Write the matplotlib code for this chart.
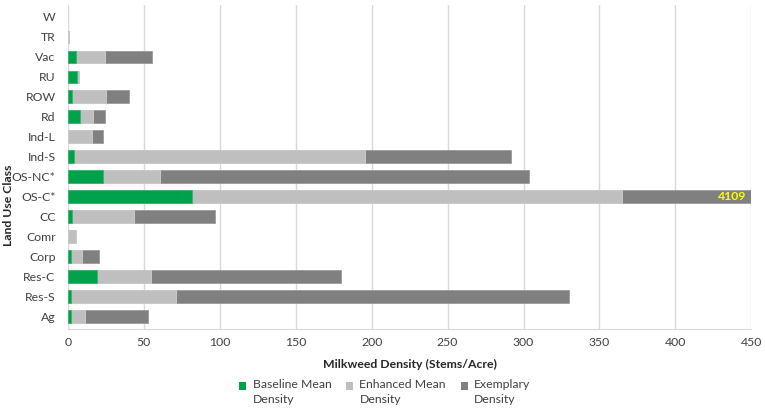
import numpy as np
import matplotlib
matplotlib.use("Agg")
from matplotlib import pyplot as plt

plt.rcParams['font.family'] = ['Lato', 'DejaVu Sans']

# top to bottom as in the chart
clases = ['W', 'TR', 'Vac', 'RU', 'ROW', 'Rd', 'Ind-L', 'Ind-S', 'OS-NC*', 'OS-C*',
          'CC', 'Comr', 'Corp', 'Res-C', 'Res-S', 'Ag']
# cumulative end of each stacked segment (stems/acre)
baseline = [0, 0, 5.1, 5.7, 2.6, 7.7, 0, 3.7, 22.7, 81.5, 2.6, 0, 2.2, 19.2, 1.8, 2.2]
enhanced = [0, 0.4, 24.2, 7.5, 25.3, 16.5, 15.6, 195.6, 60.4, 365, 43.6, 5.1, 9, 54.4, 70.9, 11]
exemplary = [0, 0.4, 55.3, 7.5, 40, 24.4, 23.1, 292, 303.5, 4109, 96.7, 5.1, 20.3, 180, 330, 52.4]

verde = '#00A14B'
gris_claro = '#BFBFBF'
gris_osc = '#808080'
fs = 8.8

fig, ax = plt.subplots(figsize=(7.65, 4.11), dpi=100)
fig.subplots_adjust(left=0.089, right=0.982, top=0.988, bottom=0.2)

y = np.arange(len(clases))[::-1]
alto = 0.64

def bordes(vals):
    return [0.6 if v > 0 else 0 for v in vals]

ax.barh(y, exemplary, height=alto, color=gris_osc, edgecolor='#9a9a9a',
        linewidth=bordes(exemplary), label='Exemplary\nDensity', zorder=2)
ax.barh(y, enhanced, height=alto, color=gris_claro, edgecolor='#cfcfcf',
        linewidth=bordes(enhanced), label='Enhanced Mean\nDensity', zorder=3)
ax.barh(y, baseline, height=alto, color=verde, edgecolor='#3cb46e',
        linewidth=bordes(baseline), label='Baseline Mean\nDensity', zorder=4)

ax.set_xlim(0, 450)
ax.set_ylim(-0.6, len(clases) - 0.4)
ax.set_xticks(range(0, 451, 50))
ax.set_yticks(y)
ax.set_yticklabels(clases)
ax.tick_params(axis='both', length=0, labelsize=fs, colors='#404040', pad=6)
ax.tick_params(axis='y', pad=9)
ax.grid(axis='x', color='#D9D9D9', linewidth=1, zorder=0)
ax.set_axisbelow(True)
for s in ['top', 'right', 'left']:
    ax.spines[s].set_visible(False)
ax.spines['bottom'].set_color('#D9D9D9')

i = clases.index('OS-C*')
ax.text(447, y[i], str(int(exemplary[i])), color='#FFFF00', fontweight='bold',
        fontsize=fs, ha='right', va='center', zorder=5)

ax.set_xlabel('Milkweed Density (Stems/Acre)', fontweight='bold', fontsize=fs,
              color='#262626', labelpad=8)
ax.set_ylabel('Land Use Class', fontweight='bold', fontsize=fs, color='#262626')
ax.yaxis.set_label_coords(14 / 765, 0.5, transform=fig.transFigure)

h, l = ax.get_legend_handles_labels()
leg = fig.legend(h[::-1], l[::-1], loc='lower center', bbox_to_anchor=(0.503, -0.012), ncol=3,
                 frameon=False, fontsize=fs, handlelength=0.6, handleheight=0.6,
                 columnspacing=1.2, handletextpad=0.5, labelcolor='#404040')
for t in leg.get_texts():
    t.set_linespacing(1.45)
# put the squares next to the first line of each label
for p in leg.legend_handles:
    p.set_y(p.get_y() + 4.5)

fig.savefig('out.png', dpi=100)
